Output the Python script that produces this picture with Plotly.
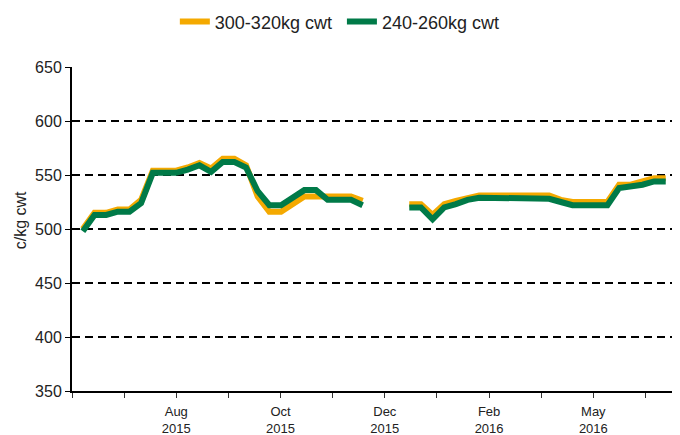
import plotly.graph_objects as go

# Weekly index (category position); None = no data (holiday break)
week = list(range(51))

heavy_300_320 = [500, 515, 515, 518, 518, 527, 554, 554, 554, 557, 561, 556, 565, 565, 559,
                 530, 516, 516, 523, 530, 530, 530, 530, 530, 526,
                 None, None, None,
                 523, 523, 513, 523, 526, 529, 531, 531, 531, 531, 531, 531, 531,
                 527, 525, 525, 525, 525, 541, 541, 544, 547, 547]

light_240_260 = [498, 513, 513, 516, 516, 524, 552, 552, 552, 555, 559, 553, 562, 562, 557,
                 535, 522, 522, 529, 536, 536, 527, 527, 527, 522,
                 None, None, None,
                 520, 520, 509, 520, 523, 527, 529, 529, 529, 529, 528, 529, 528,
                 525, 522, 522, 522, 522, 538, 539, 541, 544, 544]

series_names = ["300-320kg cwt\u00a0", "240-260kg cwt"]
tick_labels = ["", "", "Aug<br>2015", "", "Oct<br>2015", "", "Dec<br>2015", "",
               "Feb<br>2016", "", "May<br>2016", ""]
y_title = "c/kg cwt"

ORANGE = "#F4A900"
GREEN = "#007A48"
FONT = "Liberation Sans, Arial, sans-serif"

x_left, x_right = -0.93, 50.88
tick_step = 4.472
tickvals = [x_left + tick_step * j for j in range(len(tick_labels))]

fig = go.Figure()
fig.add_trace(go.Scatter(x=week, y=heavy_300_320, mode="lines", name=series_names[0],
                         line=dict(color=ORANGE, width=6), connectgaps=False))
fig.add_trace(go.Scatter(x=week, y=light_240_260, mode="lines", name=series_names[1],
                         line=dict(color=GREEN, width=6), connectgaps=False))

fig.add_annotation(text=y_title, textangle=-90, xref="paper", yref="paper",
                   x=-0.086, y=0.527, xanchor="center", yanchor="middle",
                   showarrow=False, font=dict(size=16, color="#222222"))

fig.update_layout(
    width=680, height=435,
    margin=dict(l=64, r=12, t=59, b=52, autoexpand=False),
    paper_bgcolor="white", plot_bgcolor="white",
    font=dict(family=FONT, size=16, color="#222222"),
    showlegend=True,
    legend=dict(orientation="h", xref="container", x=0.488, xanchor="center",
                yref="container", y=0.968, yanchor="middle",
                font=dict(size=18), itemwidth=30, traceorder="normal",
                bgcolor="rgba(0,0,0,0)"),
    xaxis=dict(range=[x_left, x_right], tickmode="array", tickvals=tickvals,
               ticktext=tick_labels, ticks="outside", ticklen=5, tickwidth=1,
               tickcolor="#333333", showgrid=False, zeroline=False,
               showline=True, linecolor="black", linewidth=2,
               tickfont=dict(size=13), ticklabelstandoff=2),
    yaxis=dict(range=[350, 650], tick0=350, dtick=50, ticks="outside", ticklen=5,
               tickcolor="black", tickwidth=1, showgrid=True, gridcolor="black",
               gridwidth=2, griddash="8px,5px", zeroline=False,
               showline=True, linecolor="black", linewidth=2,
               ticklabelstandoff=0,
               tickfont=dict(size=16)),
)

fig.write_html("out.html")
